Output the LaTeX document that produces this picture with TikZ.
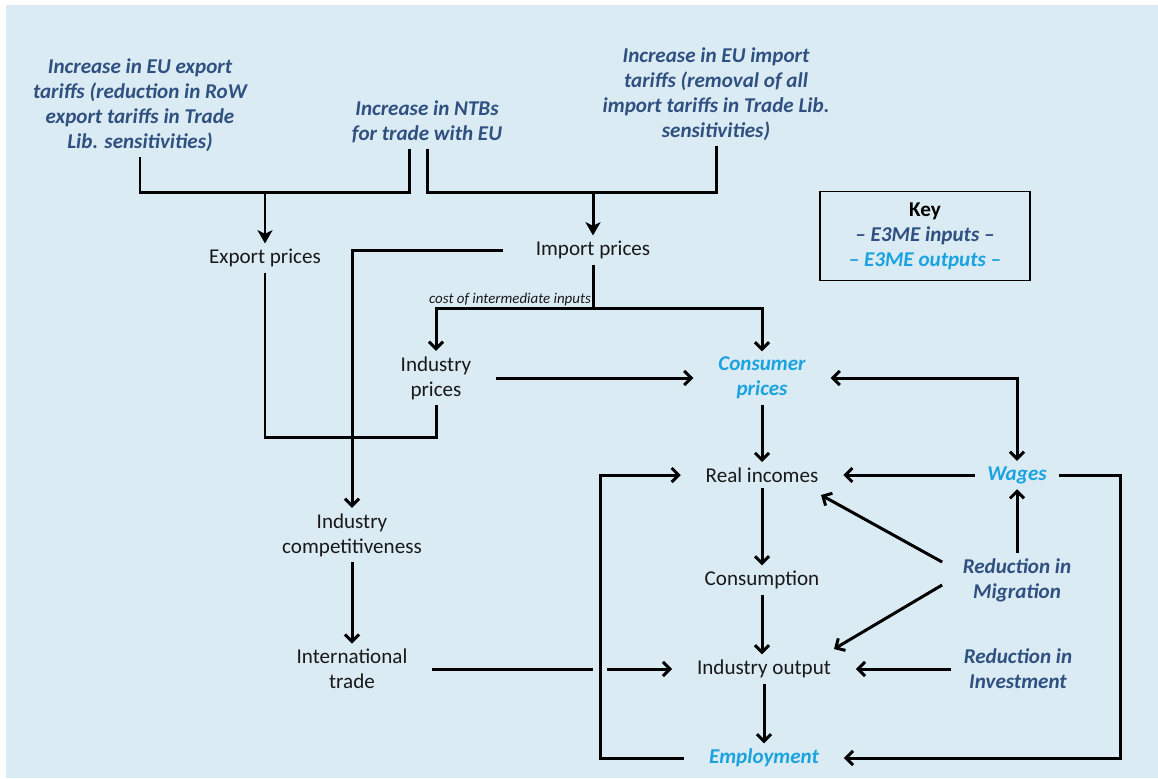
\documentclass[tikz,border=0pt]{standalone}
\usepackage{fontspec}
\setmainfont{Carlito}
\usepackage{xcolor}
\usetikzlibrary{arrows.meta,calc}
\definecolor{bgblue}{RGB}{218,235,243}
\definecolor{inblue}{RGB}{47,80,128}
\definecolor{outblue}{RGB}{27,163,224}
\definecolor{txtblack}{RGB}{25,25,25}

\begin{document}
\begin{tikzpicture}[x=0.02cm,y=-0.02cm,
    base/.style={align=center, font=\fontsize{12}{14.2}\selectfont, inner ysep=3pt},
    txtnode/.style={base, text=txtblack, inner xsep=14pt},
    innode/.style={base, text=inblue, font=\fontsize{12}{14.2}\selectfont\bfseries\itshape, inner xsep=7pt},
    outnode/.style={base, text=outblue, font=\fontsize{12}{14.2}\selectfont\bfseries\itshape, inner xsep=14pt},
    conn/.style={draw=black, line width=1.7pt},
    arr/.style={conn, -{Straight Barb[length=4pt,width=8pt]}},
    arrb/.style={conn, {Straight Barb[length=4pt,width=8pt]}-{Straight Barb[length=4pt,width=8pt]}},
    farr/.style={conn, -{Stealth[length=7.5pt,width=8.5pt,inset=2pt]}}]
\useasboundingbox (0,0) rectangle (1158,778);
\fill[white] (0,0) rectangle (1158,778);
\fill[bgblue] (6,5) rectangle (1158,778);

% inputs
\node[innode] (expinc) at (140,105) {Increase in EU export\\tariffs (reduction in RoW\\export tariffs in Trade\\Lib. sensitivities)};
\node[innode] (ntb) at (427,122) {Increase in NTBs\\for trade with EU};
\node[innode] (impinc) at (716,94) {Increase in EU import\\tariffs (removal of all\\import tariffs in Trade Lib.\\sensitivities)};
\node[innode] (migr) at (1017,580) {Reduction in\\Migration};
\node[innode] (invest) at (1018,669) {Reduction in\\Investment};

% key
\node[draw, line width=0.8pt, minimum width=4.2cm, minimum height=1.78cm, align=center,
      font=\fontsize{12}{14.2}\selectfont\bfseries, text=black] (key) at (925,236)
      {Key\\{\color{inblue}\itshape – E3ME inputs –}\\{\color{outblue}\itshape – E3ME outputs –}};

% model variables
\node[txtnode] (expp) at (265,258) {Export prices};
\node[txtnode] (impp) at (593,250) {Import prices};
\node[txtnode] (indp) at (436,378) {Industry\\prices};
\node[outnode] (conp) at (762,378) {Consumer\\prices};
\node[txtnode] (realinc) at (762,475) {Real incomes};
\node[outnode, inner xsep=7pt] (wages) at (1017,475) {Wages};
\node[txtnode] (indcomp) at (352,535) {Industry\\competitiveness};
\node[txtnode] (cons) at (762,580) {Consumption};
\node[txtnode] (trade) at (352,669) {International\\trade};
\node[txtnode] (indout) at (764,669) {Industry output};
\node[outnode] (empl) at (764,758) {Employment};

\coordinate (ej) at (265,192);
\coordinate (ij) at (593,192);
\coordinate (cj) at (593,308);
\coordinate (xj) at (265,437);
\coordinate (loopl) at (600,475);
\coordinate (loopr) at (1120,475);
\coordinate (gapa) at (593,669);
\coordinate (gapb) at (607,669);

% trade shocks
\draw[conn] (expinc.south) |- (ej) -| ($(ntb.south)+(-18,0)$);
\draw[farr] (ej) -- (expp.north);
\draw[conn] (ntb.south) |- (ij) -| (impinc.south);
\draw[farr] (ij) -- (impp.north);
\draw[arr] ($(impp.west)+(-8,0)$) -| (indcomp.north);
\draw[conn] (impp.south) -- (cj);
\draw[arr] (cj) -| (indp.north);
\draw[arr] (cj) -| (conp.north);
\node[font=\fontsize{8.5}{10}\selectfont\itshape, text=txtblack, anchor=south east, inner sep=1pt] (costlbl) at (cj) {cost of intermediate inputs};
\draw[conn] (expp.south) -- (xj) -| (indp.south);
\draw[arr] (indp.east) -- (conp.west);
\draw[arrb] (conp.east) -| (wages.north);
\draw[arr] (indcomp.south) -- (trade.north);

% income loop
\draw[arr] (conp.south) -- (realinc.north);
\draw[arr] (wages.west) -- (realinc.east);
\draw[arr] (migr.north) -- (wages.south);
\draw[arr] ($(migr.west)+(-8,-18)$) -- ($(realinc)+(59,20)$);
\draw[arr] ($(migr.west)+(-8,5)$) -- ($(indout)+(70,-20)$);
\draw[arr] (realinc.south) -- (cons.north);
\draw[arr] (cons.south) -- (cons.south |- indout.north);
\draw[arr] (invest.west) -- (indout.east);
\draw[arr] (indout.south) -- (empl.north);
\draw[arr] (empl.west) -| (loopl) -- (realinc.west);
\draw[arr] (wages.east) -- (loopr) |- (empl.east);
\draw[conn] (trade.east) -- (gapa);
\draw[arr] (gapb) -- (indout.west);
\end{tikzpicture}
\end{document}
